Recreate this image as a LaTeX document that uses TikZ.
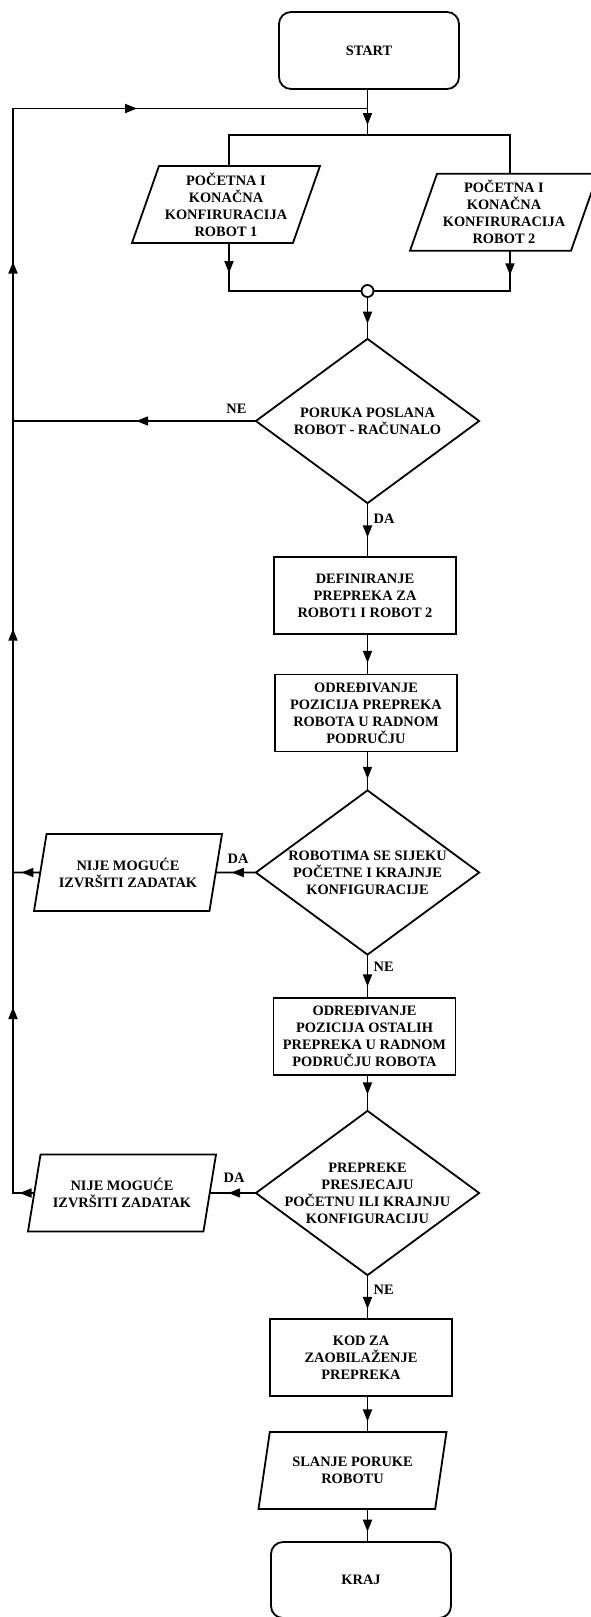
\documentclass[tikz,border=0pt]{standalone}
\usepackage{fontspec}
\setmainfont{Liberation Serif}
\usepackage{tikz}
\usetikzlibrary{arrows.meta,calc,positioning,shapes.geometric,decorations.markings}

\begin{document}
\begin{tikzpicture}[x=1pt, y=-1pt,
  every node/.style={font=\fontsize{14.4}{17}\selectfont\bfseries, align=center},
  term/.style={draw, line width=1.8pt, rounded corners=12pt,
               minimum width=180pt, minimum height=77pt},
  proc/.style={draw, line width=1.8pt, minimum width=182pt, minimum height=77pt},
  io/.style={draw, line width=1.8pt, trapezium, trapezium left angle=67,
             trapezium right angle=113, trapezium stretches body,
             minimum width=188pt, minimum height=77pt, inner sep=0pt},
  cond/.style={draw, line width=1.8pt, diamond, aspect=1.36,
               minimum width=224pt, minimum height=165pt, inner sep=-12pt},
  dot/.style={draw, line width=1.8pt, circle, fill=white,
              minimum size=12pt, inner sep=0pt},
  lbl/.style={inner sep=0pt},
  flow/.style={line width=1.8pt, line cap=rect},
  arr/.style={flow, postaction={decorate}, decoration={markings,
              mark=at position #1 with {\arrow{Triangle[length=12pt,width=9pt]}}}},
  arr/.default=0.7]
  \useasboundingbox (0,0) rectangle (591,1617);

  % nodes
  \node[term] (start) at (369,50.5) {START};
  \coordinate (top) at (13,108.5);
  \coordinate (sl) at (229,135);
  \coordinate (sr) at (510,135);
  \node[io] (r1) at (226,204.4) {POČETNA I\\KONAČNA\\KONFIRURACIJA\\ROBOT 1};
  \node[io] (r2) at (504,212.3) {POČETNA I\\KONAČNA\\KONFIRURACIJA\\ROBOT 2};
  \node[dot] (c) at (367.5,291) {};
  \node[cond] (d1) at (367.5,421) {PORUKA POSLANA\\ROBOT - RAČUNALO};
  \node[proc] (b1) at (365,595.5) {DEFINIRANJE\\PREPREKA ZA\\ROBOT1 I ROBOT 2};
  \node[proc] (b2) at (366,713) {ODREĐIVANJE\\POZICIJA PREPREKA\\ROBOTA U RADNOM\\PODRUČJU};
  \node[cond] (d2) at (367.5,872.5) {ROBOTIMA SE SIJEKU\\POČETNE I KRAJNJE\\KONFIGURACIJE};
  \node[io] (n1) at (128,872.5) {NIJE MOGUĆE\\IZVRŠITI ZADATAK};
  \node[proc] (b3) at (364.5,1036.5) {ODREĐIVANJE\\POZICIJA OSTALIH\\PREPREKA U RADNOM\\PODRUČJU ROBOTA};
  \node[cond] (d3) at (367.5,1193) {PREPREKE\\PRESJECAJU\\POČETNU ILI KRAJNJU\\KONFIGURACIJU};
  \node[io] (n2) at (122,1193) {NIJE MOGUĆE\\IZVRŠITI ZADATAK};
  \node[proc] (b4) at (361,1357.5) {KOD ZA\\ZAOBILAŽENJE\\PREPREKA};
  \node[io] (out) at (352.5,1470.4) {SLANJE PORUKE\\ROBOTU};
  \node[term, minimum height=76pt] (kraj) at (361,1580) {KRAJ};

  % labels
  \node[lbl, above left=7pt and 8pt of d1.west] (ne1) {NE};
  \node[lbl, below right=9pt and 6pt of d1.south] (da1) {DA};
  \node[lbl, above left=9pt and 6pt of d2.west] (da2) {DA};
  \node[lbl, below right=6pt and 6pt of d2.south] (ne2) {NE};
  \node[lbl, above left=10pt and 10pt of d3.west] (da3) {DA};
  \node[lbl, below right=8pt and 6pt of d3.south] (ne3) {NE};

  % inputs
  \draw[arr=0.78] (start.south -| c) -- (c |- sl);
  \draw[flow] (sl) -- (sr);
  \draw[flow] (sl) -- (sl |- r1.north);
  \draw[flow] (sr) -- (sr |- r2.north);
  \draw[arr=0.62] (sl |- r1.south) -- (sl |- c);
  \draw[arr=0.6] (sr |- r2.south) -- (sr |- c);
  \draw[flow] (sl |- c) -- (c);
  \draw[flow] (sr |- c) -- (c);

  % main line
  \draw[arr=0.65] (c) -- (d1);
  \draw[arr=0.64] (d1) -- (d1 |- b1.north);
  \draw[arr=0.72] (b1.south -| d1) -- (b2.north -| d1);
  \draw[arr=0.72] (b2.south -| d2) -- (d2);
  \draw[arr=0.74] (d2) -- (d2 |- b3.north);
  \draw[arr=0.55] (b3.south -| d3) -- (d3);
  \draw[arr=0.78] (d3) -- (d3 |- b4.north);
  \draw[arr=0.72] (b4.south -| d3) -- (out.north -| d3);
  \draw[arr] (out.south -| d3) -- (kraj.north -| d3);

  % branches and loop back
  \draw[arr=0.49] (d1) -- (d1 -| top);
  \draw[arr=0.6] (d2) -- (n1);
  \draw[arr=0.6] (d3) -- (n2);
  \draw[arr=0.68] (n1) -- (n1 -| top);
  \draw[arr=0.68] (n2) -- (n2 -| top);
  \draw[arr=0.58] (n2 -| top) -- (n1 -| top);
  \draw[arr=0.54] (n1 -| top) -- (d1 -| top);
  \draw[arr=0.51] (d1 -| top) -- (top);
  \draw[arr=0.35] (top) -- (top -| c);
\end{tikzpicture}
\end{document}
